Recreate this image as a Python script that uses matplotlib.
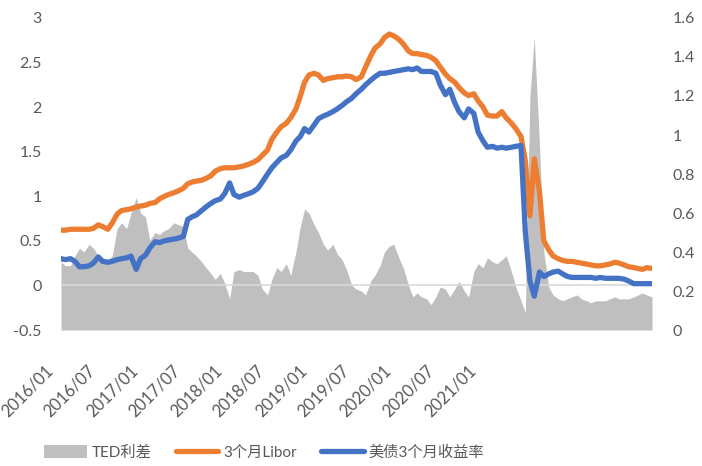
import numpy as np
import pandas as pd
import matplotlib
matplotlib.use("Agg")
import matplotlib.pyplot as plt
from matplotlib.ticker import FuncFormatter

plt.rcParams['font.family'] = ['Lato', 'Noto Sans CJK SC', 'DejaVu Sans']

# semi-monthly readings, 2016/01/01 .. 2021/04/01
dates = pd.date_range('2016-01-01', '2021-04-01', freq='SMS')

ted = [
    0.35, 0.33, 0.33, 0.38, 0.42, 0.40, 0.44, 0.42, 0.38, 0.37, 0.36, 0.38,
    0.52, 0.55, 0.52, 0.60, 0.68, 0.60, 0.58, 0.46, 0.50, 0.49, 0.51, 0.52,  # 2016
    0.55, 0.54, 0.53, 0.42, 0.40, 0.38, 0.35, 0.32, 0.29, 0.26, 0.29, 0.24,
    0.16, 0.30, 0.31, 0.30, 0.30, 0.30, 0.28, 0.21, 0.18, 0.26, 0.32, 0.30,  # 2017
    0.34, 0.28, 0.40, 0.53, 0.62, 0.60, 0.54, 0.50, 0.44, 0.41, 0.44, 0.39,
    0.36, 0.31, 0.23, 0.21, 0.20, 0.18, 0.25, 0.28, 0.33, 0.40, 0.43, 0.44,  # 2018
    0.37, 0.32, 0.23, 0.17, 0.19, 0.17, 0.16, 0.13, 0.17, 0.22, 0.21, 0.17,
    0.21, 0.25, 0.20, 0.17, 0.30, 0.34, 0.32, 0.37, 0.35, 0.34, 0.36, 0.38,  # 2019
    0.30, 0.22, 0.15, 0.09, 1.20, 1.50, 0.95, 0.40, 0.22, 0.18, 0.16, 0.15,
    0.16, 0.17, 0.18, 0.16, 0.15, 0.14, 0.15, 0.15, 0.15, 0.16, 0.17, 0.16,  # 2020
    0.16, 0.16, 0.17, 0.18, 0.19, 0.18, 0.17,                                # 2021
]

libor = [
    0.62, 0.62, 0.63, 0.63, 0.63, 0.63, 0.63, 0.64, 0.68, 0.66, 0.63, 0.70,
    0.80, 0.84, 0.85, 0.86, 0.88, 0.89, 0.90, 0.92, 0.93, 0.97, 1.00, 1.02,
    1.04, 1.06, 1.09, 1.14, 1.16, 1.17, 1.18, 1.20, 1.23, 1.28, 1.31, 1.32,
    1.32, 1.32, 1.33, 1.34, 1.36, 1.38, 1.41, 1.46, 1.52, 1.64, 1.72, 1.78,
    1.82, 1.88, 1.98, 2.12, 2.28, 2.36, 2.38, 2.36, 2.30, 2.32, 2.33, 2.34,
    2.34, 2.35, 2.34, 2.31, 2.34, 2.45, 2.57, 2.66, 2.71, 2.78, 2.82, 2.80,
    2.76, 2.71, 2.63, 2.60, 2.60, 2.59, 2.58, 2.56, 2.52, 2.45, 2.37, 2.32,
    2.28, 2.22, 2.16, 2.13, 2.15, 2.07, 2.00, 1.91, 1.90, 1.90, 1.95, 1.88,
    1.82, 1.76, 1.67, 1.40, 0.78, 1.42, 1.05, 0.50, 0.40, 0.33, 0.30, 0.28,
    0.27, 0.27, 0.26, 0.25, 0.24, 0.23, 0.22, 0.22, 0.23, 0.24, 0.26, 0.25,
    0.23, 0.21, 0.20, 0.19, 0.18, 0.20, 0.19,
]

tbill = [
    0.30, 0.29, 0.30, 0.27, 0.21, 0.21, 0.22, 0.25, 0.32, 0.27, 0.26, 0.27,
    0.29, 0.30, 0.31, 0.33, 0.18, 0.30, 0.34, 0.42, 0.49, 0.48, 0.50, 0.51,
    0.52, 0.53, 0.55, 0.74, 0.77, 0.79, 0.84, 0.88, 0.92, 0.95, 0.97, 1.03,
    1.15, 1.02, 0.99, 1.01, 1.03, 1.05, 1.09, 1.16, 1.25, 1.32, 1.38, 1.43,
    1.46, 1.52, 1.62, 1.67, 1.76, 1.72, 1.80, 1.87, 1.90, 1.92, 1.95, 1.98,
    2.02, 2.06, 2.10, 2.15, 2.20, 2.25, 2.30, 2.34, 2.38, 2.38, 2.39, 2.40,
    2.41, 2.42, 2.43, 2.42, 2.44, 2.40, 2.40, 2.40, 2.38, 2.25, 2.14, 2.20,
    2.05, 1.95, 1.88, 1.98, 1.93, 1.72, 1.62, 1.55, 1.56, 1.54, 1.55, 1.54,
    1.55, 1.56, 1.57, 0.60, 0.05, -0.12, 0.15, 0.10, 0.13, 0.15, 0.16, 0.13,
    0.10, 0.09, 0.09, 0.09, 0.09, 0.09, 0.08, 0.09, 0.08, 0.08, 0.08, 0.08,
    0.07, 0.05, 0.02, 0.02, 0.02, 0.02, 0.02,
]

xlabels = ['2016/01', '2016/07', '2017/01', '2017/07', '2018/01', '2018/07',
           '2019/01', '2019/07', '2020/01', '2020/07', '2021/01']

GRAY = '#BFBFBF'
ORANGE = '#ED7D31'
BLUE = '#4472C4'
TXT = '#595959'
FS = 11.5

fig = plt.figure(figsize=(7.02, 4.66), dpi=100)
ax = fig.add_axes([0.0869, 0.2918, 0.8419, 0.6696])
ax2 = ax.twinx()

# TED on the secondary axis, drawn underneath
ax2.fill_between(dates, 0, ted, color=GRAY, lw=0, label='TED利差')
ax2.set_ylim(0, 1.6)
ax2.set_yticks(np.arange(0, 1.61, 0.2))

ax.set_zorder(ax2.get_zorder() + 1)
ax.patch.set_visible(False)
ax.axhline(0, color='#D9D9D9', lw=1.2, zorder=1)
ax.plot(dates, libor, color=ORANGE, lw=3.8, solid_capstyle='round',
        solid_joinstyle='round', label='3个月Libor', zorder=3)
ax.plot(dates, tbill, color=BLUE, lw=3.8, solid_capstyle='round',
        solid_joinstyle='round', label='美债3个月收益率', zorder=4)
ax.set_ylim(-0.5, 3)
ax.set_yticks(np.arange(-0.5, 3.01, 0.5))
ax.set_xlim(dates[0], dates[-1])

fmt = FuncFormatter(lambda v, p: '%g' % round(v, 2))
for a in (ax, ax2):
    a.yaxis.set_major_formatter(fmt)
    for s in a.spines.values():
        s.set_visible(False)
    a.tick_params(length=0, labelsize=FS, labelcolor=TXT)
ax.tick_params(axis='y', pad=14)
ax2.tick_params(axis='y', pad=15)
ax.set_xticks([])

# category-style date labels under the plot
for i, lab in enumerate(xlabels):
    ax.text(-0.0085 + i * 0.0716, -0.102, lab, rotation=45, ha='right', va='top',
            fontsize=12, color=TXT, transform=ax.transAxes)

h1, l1 = ax2.get_legend_handles_labels()
h2, l2 = ax.get_legend_handles_labels()
fig.legend(h1 + h2, l1 + l2, loc='center', bbox_to_anchor=(0.376, 0.029),
           ncol=3, frameon=False, fontsize=11, labelcolor=TXT,
           handlelength=2.8, handleheight=0.9, handletextpad=0.3,
           columnspacing=1.6)

fig.savefig('out.png', dpi=100)
